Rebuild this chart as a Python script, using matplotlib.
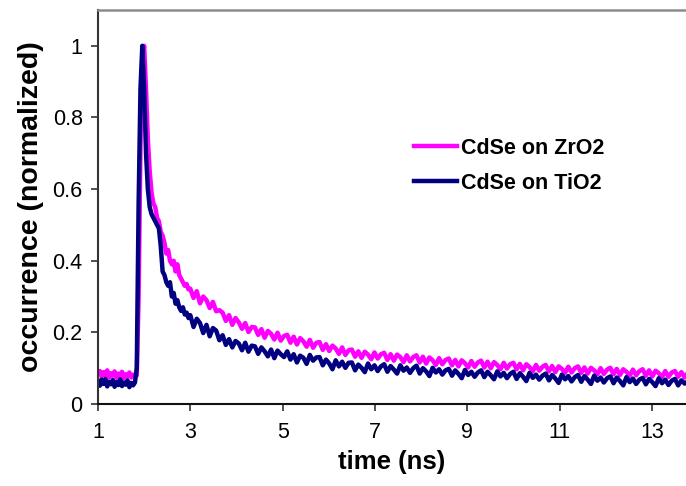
import numpy as np
import matplotlib
matplotlib.use("Agg")
import matplotlib.pyplot as plt

plt.rcParams['font.family'] = ['Liberation Sans', 'DejaVu Sans']

# time grids (ns)
t_early = np.round(np.arange(1.00, 2.961, 0.04), 3)   # 50 points
t_late = np.round(np.arange(3.00, 13.781, 0.07), 3)   # 155 points
time_ns = np.concatenate([t_early, t_late])

# CdSe on ZrO2 (normalized occurrence)
zro2_early = [0.084, 0.092, 0.076, 0.089, 0.080, 0.094, 0.074, 0.086, 0.079, 0.091,
              0.073, 0.085, 0.078, 0.090, 0.072, 0.083, 0.077, 0.088, 0.074, 0.082,
              0.079,
              0.080, 0.300, 0.720, 0.970, 1.000, 0.880, 0.740, 0.650, 0.590, 0.560,
              0.550, 0.520, 0.510, 0.480, 0.470, 0.450, 0.420, 0.430, 0.400, 0.390,
              0.400, 0.370, 0.390, 0.360, 0.350, 0.340, 0.330, 0.335, 0.320]
zro2_late = [0.322, 0.296, 0.315, 0.281, 0.300, 0.290, 0.268, 0.285, 0.259, 0.262,
             0.255, 0.232, 0.248, 0.221, 0.240, 0.228, 0.210, 0.226, 0.201, 0.215,
             0.214, 0.193, 0.209, 0.185, 0.204, 0.196, 0.180, 0.199, 0.177, 0.190,
             0.193, 0.171, 0.188, 0.166, 0.184, 0.175, 0.160, 0.179, 0.157, 0.171,
             0.173, 0.151, 0.167, 0.148, 0.163, 0.155, 0.140, 0.158, 0.137, 0.150,
             0.152, 0.132, 0.147, 0.129, 0.146, 0.138, 0.125, 0.144, 0.127, 0.139,
             0.143, 0.123, 0.139, 0.121, 0.138, 0.131, 0.117, 0.136, 0.119, 0.131,
             0.136, 0.116, 0.132, 0.113, 0.130, 0.122, 0.109, 0.128, 0.111, 0.123,
             0.127, 0.108, 0.123, 0.105, 0.122, 0.114, 0.102, 0.120, 0.104, 0.116,
             0.121, 0.102, 0.118, 0.100, 0.117, 0.109, 0.097, 0.115, 0.099, 0.111,
             0.115, 0.097, 0.112, 0.094, 0.111, 0.103, 0.091, 0.109, 0.093, 0.104,
             0.109, 0.091, 0.106, 0.089, 0.105, 0.098, 0.087, 0.104, 0.088, 0.100,
             0.105, 0.087, 0.102, 0.085, 0.101, 0.094, 0.083, 0.100, 0.084, 0.096,
             0.101, 0.083, 0.098, 0.081, 0.097, 0.090, 0.079, 0.096, 0.080, 0.092,
             0.097, 0.079, 0.094, 0.077, 0.093, 0.086, 0.075, 0.092, 0.076, 0.088,
             0.092, 0.076, 0.089, 0.074, 0.087]

# CdSe on TiO2 (normalized occurrence)
tio2_early = [0.064, 0.051, 0.068, 0.056, 0.070, 0.049, 0.062, 0.055, 0.067, 0.048,
              0.061, 0.053, 0.069, 0.050, 0.060, 0.054, 0.066, 0.047, 0.059, 0.052,
              0.060,
              0.100, 0.560, 0.880, 1.000, 0.880, 0.700, 0.600, 0.550, 0.530, 0.520,
              0.510, 0.500, 0.490, 0.440, 0.370, 0.360, 0.340, 0.330, 0.340, 0.300,
              0.310, 0.280, 0.290, 0.270, 0.260, 0.270, 0.250, 0.255, 0.240]
tio2_late = [0.248, 0.215, 0.238, 0.226, 0.198, 0.221, 0.189, 0.212, 0.205, 0.178,
             0.192, 0.165, 0.181, 0.158, 0.176, 0.169, 0.150, 0.171, 0.146, 0.163,
             0.161, 0.140, 0.158, 0.147, 0.133, 0.152, 0.128, 0.149, 0.139, 0.131,
             0.147, 0.124, 0.139, 0.116, 0.135, 0.129, 0.112, 0.137, 0.121, 0.130,
             0.131, 0.108, 0.124, 0.113, 0.097, 0.122, 0.105, 0.118, 0.101, 0.115,
             0.116, 0.094, 0.110, 0.101, 0.089, 0.113, 0.097, 0.108, 0.092, 0.105,
             0.111, 0.090, 0.106, 0.096, 0.085, 0.108, 0.093, 0.102, 0.087, 0.100,
             0.107, 0.085, 0.100, 0.091, 0.078, 0.101, 0.088, 0.097, 0.082, 0.094,
             0.098, 0.079, 0.094, 0.084, 0.072, 0.095, 0.081, 0.090, 0.076, 0.088,
             0.094, 0.075, 0.090, 0.080, 0.069, 0.091, 0.077, 0.087, 0.072, 0.084,
             0.090, 0.070, 0.086, 0.076, 0.064, 0.087, 0.073, 0.082, 0.068, 0.079,
             0.085, 0.066, 0.081, 0.071, 0.059, 0.082, 0.069, 0.078, 0.063, 0.075,
             0.081, 0.062, 0.078, 0.068, 0.056, 0.079, 0.065, 0.074, 0.060, 0.072,
             0.077, 0.058, 0.074, 0.064, 0.052, 0.075, 0.061, 0.071, 0.056, 0.068,
             0.073, 0.055, 0.070, 0.061, 0.050, 0.072, 0.058, 0.068, 0.053, 0.065,
             0.070, 0.052, 0.066, 0.057, 0.063]

zro2 = np.array(zro2_early + zro2_late)
tio2 = np.array(tio2_early + tio2_late)

series_labels = ["CdSe on ZrO2", "CdSe on TiO2"]
x_ticks = [1, 3, 5, 7, 9, 11, 13]
y_ticks = [0, 0.2, 0.4, 0.6, 0.8, 1]
y_tick_labels = ["0", "0.2", "0.4", "0.6", "0.8", "1"]

fig = plt.figure(figsize=(6.86, 4.86), dpi=100)
ax = fig.add_axes([98 / 686, (486 - 404) / 486, (686 - 98) / 686, (404 - 10) / 486])

ax.plot(time_ns, zro2, color="#FF00FF", lw=3.2, label=series_labels[0],
        solid_joinstyle="round")
ax.plot(time_ns, tio2, color="#000080", lw=3.2, label=series_labels[1],
        solid_joinstyle="round")

ax.set_xlim(1, 13.74)
ax.set_ylim(0, 1.1)
ax.set_xticks(x_ticks)
ax.set_xticklabels([str(v) for v in x_ticks])
ax.set_yticks(y_ticks)
ax.set_yticklabels(y_tick_labels)

ax.tick_params(axis="both", direction="out", length=5, width=1.2, labelsize=15.5,
               color="#333333")
ax.tick_params(axis="x", pad=8)
ax.tick_params(axis="y", pad=6)

ax.spines["right"].set_visible(False)
ax.spines["top"].set_color("#8c8c8c")
ax.spines["top"].set_linewidth(1.8)
ax.spines["left"].set_color("#333333")
ax.spines["left"].set_linewidth(1.5)
ax.spines["bottom"].set_color("#111111")
ax.spines["bottom"].set_linewidth(1.5)

ax.set_xlabel("time (ns)", fontsize=18.5, fontweight="bold", labelpad=5)
ax.set_ylabel("occurrence (normalized)", fontsize=20.5, fontweight="bold", labelpad=6)

leg = ax.legend(loc="upper left", bbox_to_anchor=(0.523, 0.697), frameon=False,
                prop={"size": 15.5, "weight": "bold"}, handlelength=2.0,
                handletextpad=0.2, labelspacing=0.65, borderaxespad=0)
for h in leg.get_lines():
    h.set_linewidth(3.2)

fig.savefig("out.png", dpi=100)
